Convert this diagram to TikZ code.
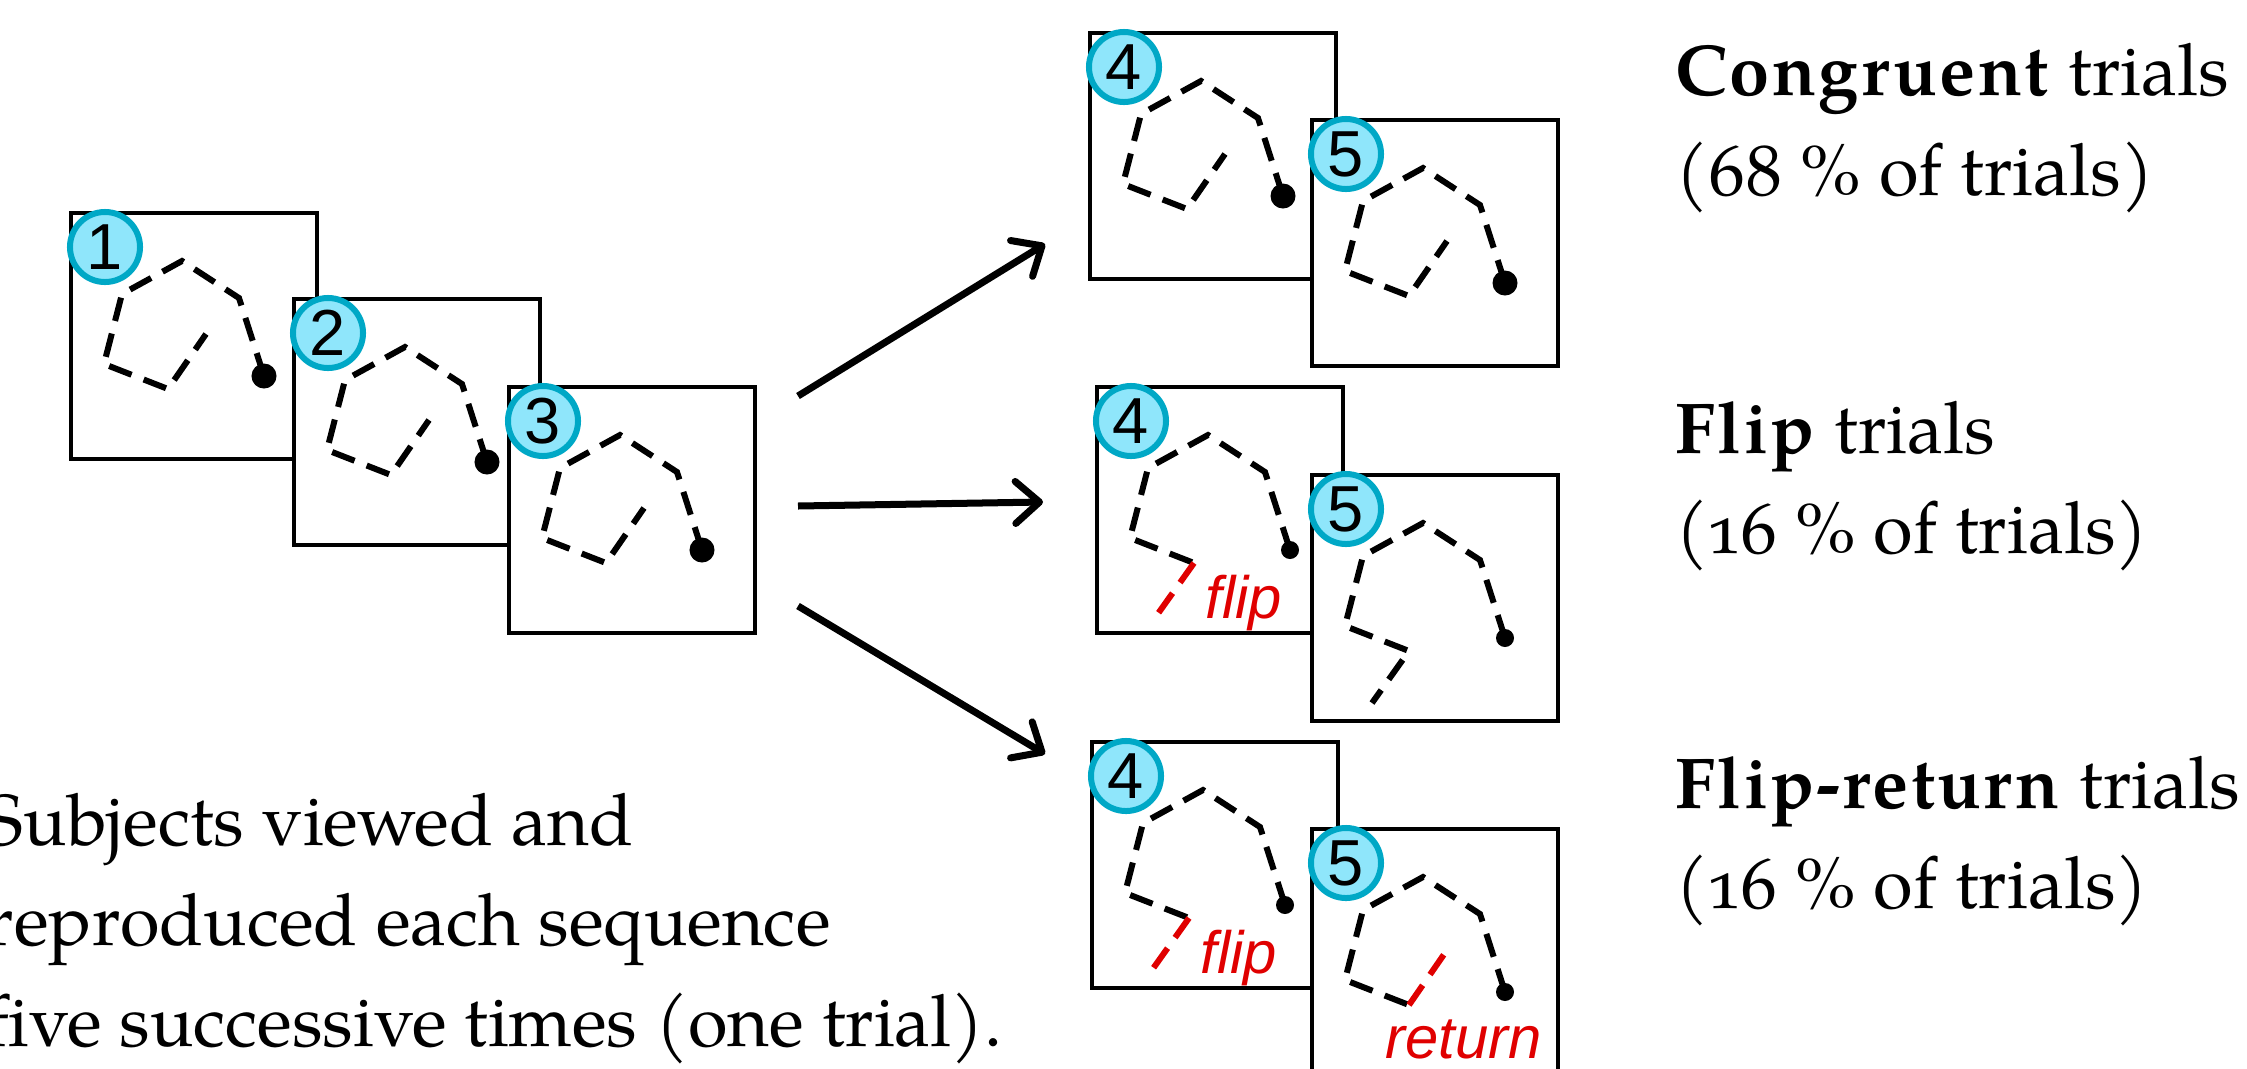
\documentclass[tikz,border=0pt]{standalone}
\usepackage{fontspec}
\setmainfont{TeX Gyre Pagella}[Numbers=OldStyle, BoldFeatures={LetterSpace=3}]
\newfontfamily\arialf{Liberation Sans}
\usetikzlibrary{arrows.meta,calc}
\definecolor{badgefill}{HTML}{8FE6FB}
\definecolor{badgeline}{HTML}{00A8C6}
\definecolor{flipred}{HTML}{E00000}
\tikzset{
  cardbox/.style={draw=black, fill=white, line width=0.04cm, minimum width=2.46cm, minimum height=2.46cm, inner sep=0pt, anchor=north west},
  badge/.style={circle, draw=badgeline, fill=badgefill, line width=0.06cm, minimum size=0.70cm, inner sep=0pt, font=\arialf\fontsize{18.5pt}{18.5pt}\selectfont},
  trace/.style={line width=0.06cm, dash pattern=on 0.24cm off 0.13cm},
  redtrace/.style={trace, draw=flipred},
  cue/.style={text=flipred, inner sep=0pt, anchor=base west, font=\arialf\itshape\fontsize{17pt}{17pt}\selectfont},
  bigarrow/.style={line width=0.07cm, -{Straight Barb[length=0.24cm, width=0.42cm, round]}},
  txt/.style={inner sep=0pt, anchor=base west, font=\fontsize{20.5pt}{28pt}\selectfont},
}
\newcommand\drawcard[5]{%
  \node[cardbox] (#1) at (#2,#3) {};
  \node[badge] (#1b) at ($(#1.north west)+(36,36)$) {#4};
  \fill ($(#1.north west)+(195,165)$) circle (#5);
}
\begin{document}
\begin{tikzpicture}[x=0.01cm,y=-0.01cm]
\useasboundingbox (0,0) rectangle (2247,1069);

% left sequence
\drawcard{L1}{69}{211}{1}{0.125cm}
\begin{scope}[shift={(L1.north west)}]
  \draw[trace] (195,165) -- (170,87) -- (113,50) -- (53,83) -- (35,153) -- (99,178) -- (137,123);
\end{scope}
\drawcard{L2}{292}{297}{2}{0.125cm}
\begin{scope}[shift={(L2.north west)}]
  \draw[trace] (195,165) -- (170,87) -- (113,50) -- (53,83) -- (35,153) -- (99,178) -- (137,123);
\end{scope}
\drawcard{L3}{507}{385}{3}{0.125cm}
\begin{scope}[shift={(L3.north west)}]
  \draw[trace] (195,165) -- (170,87) -- (113,50) -- (53,83) -- (35,153) -- (99,178) -- (137,123);
\end{scope}

% congruent row
\drawcard{R1a}{1088}{31}{4}{0.125cm}
\begin{scope}[shift={(R1a.north west)}]
  \draw[trace] (195,165) -- (170,87) -- (113,50) -- (53,83) -- (35,153) -- (99,178) -- (137,123);
\end{scope}
\drawcard{R1b}{1310}{118}{5}{0.125cm}
\begin{scope}[shift={(R1b.north west)}]
  \draw[trace] (195,165) -- (170,87) -- (113,50) -- (53,83) -- (35,153) -- (99,178) -- (137,123);
\end{scope}

% flip row
\drawcard{R2a}{1095}{385}{4}{0.09cm}
\begin{scope}[shift={(R2a.north west)}]
  \draw[trace] (195,165) -- (170,87) -- (113,50) -- (53,83) -- (35,153) -- (99,178);
  \draw[redtrace] (99,178) -- (62,230);
  \node[cue] (flipA) at (110,233) {flip};
\end{scope}
\drawcard{R2b}{1310}{473}{5}{0.09cm}
\begin{scope}[shift={(R2b.north west)}]
  \draw[trace] (195,165) -- (170,87) -- (113,50) -- (53,83) -- (35,153) -- (99,178) -- (62,230);
\end{scope}

% flip-return row
\drawcard{R3a}{1090}{740}{4}{0.09cm}
\begin{scope}[shift={(R3a.north west)}]
  \draw[trace] (195,165) -- (170,87) -- (113,50) -- (53,83) -- (35,153) -- (99,178);
  \draw[redtrace] (99,178) -- (62,230);
  \node[cue] (flipB) at (110,233) {flip};
\end{scope}
\drawcard{R3b}{1310}{827}{5}{0.09cm}
\begin{scope}[shift={(R3b.north west)}]
  \draw[trace] (195,165) -- (170,87) -- (113,50) -- (53,83) -- (35,153) -- (99,178);
  \draw[redtrace] (99,178) -- (137,123);
  \node[cue] (ret) at (75,231) {return};
\end{scope}

% arrows
\coordinate (a1s) at (798,396); \coordinate (a1e) at (1045,244);
\coordinate (a2s) at (798,506); \coordinate (a2e) at (1043,502);
\coordinate (a3s) at (798,606); \coordinate (a3e) at (1045,754);
\draw[bigarrow] (a1s) -- (a1e);
\draw[bigarrow] (a2s) -- (a2e);
\draw[bigarrow] (a3s) -- (a3e);

% right labels
\node[txt] (ct1) at (1675,95) {\textbf{Congruent} trials};
\node[txt] (ct2) at (1675,195) {(68 \% of trials)};
\node[txt] (ft1) at (1675,453) {\textbf{Flip} trials};
\node[txt] (ft2) at (1675,553) {(16 \% of trials)};
\node[txt] (rt1) at (1675,808) {\textbf{Flip-return} trials};
\node[txt] (rt2) at (1675,908) {(16 \% of trials)};

% left caption
\node[txt] (s1) at (-15,845) {Subjects viewed and};
\node[txt] (s2) at (-15,945) {reproduced each sequence};
\node[txt] (s3) at (-15,1046) {five successive times (one trial).};
\end{tikzpicture}
\end{document}
